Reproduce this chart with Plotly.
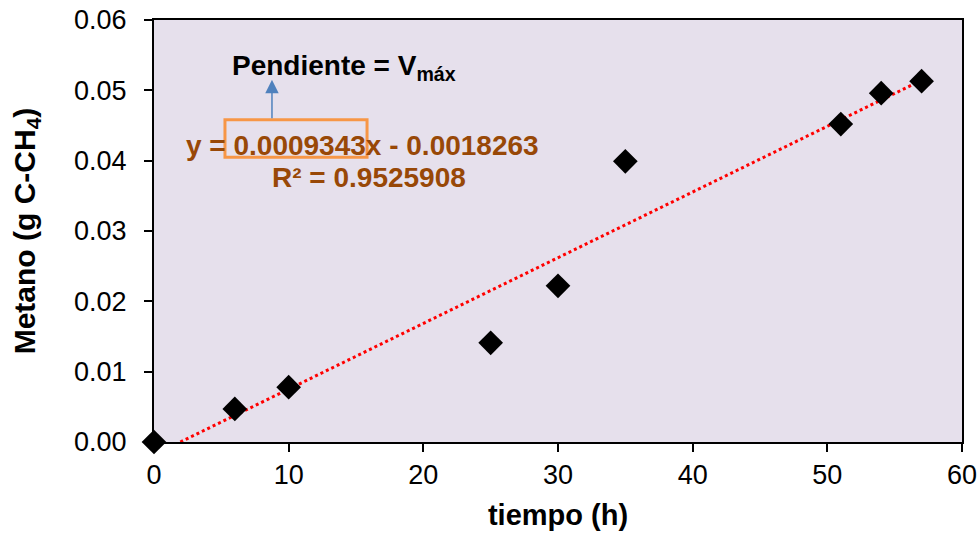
import numpy as np
import plotly.graph_objects as go

# Measured methane production over time
tiempo_h = [0, 6, 10, 25, 30, 35, 51, 54, 57]
metano_g = [0.0, 0.0047, 0.0078, 0.0141, 0.0222, 0.0399, 0.0452, 0.0496, 0.0513]

# Linear trend line reported on the chart
pendiente = 0.0009343
intercepto = -0.0018263
r2 = 0.9525908

x_tick_vals = [0, 10, 20, 30, 40, 50, 60]
y_tick_vals = [0.00, 0.01, 0.02, 0.03, 0.04, 0.05, 0.06]

FONT = "Arial, Liberation Sans, sans-serif"
BROWN = "#984807"
ORANGE = "#F79646"
ARROW = "#4F81BD"

x_fit = np.linspace(-intercepto / pendiente, max(tiempo_h), 200)
y_fit = pendiente * x_fit + intercepto

fig = go.Figure()
fig.add_trace(go.Scatter(
    x=x_fit, y=y_fit, mode="lines",
    line=dict(color="#FF0000", width=3, dash="dot"),
    hoverinfo="skip", showlegend=False,
))
fig.add_trace(go.Scatter(
    x=tiempo_h, y=metano_g, mode="markers",
    marker=dict(symbol="diamond", size=19, color="black"),
    showlegend=False, cliponaxis=False,
))

# Box highlighting the slope and arrow pointing to its meaning
fig.add_shape(type="rect", x0=5.27, x1=15.82, y0=0.0405, y1=0.0458,
              line=dict(color=ORANGE, width=3), layer="above")
fig.add_annotation(x=8.76, y=0.0515, ax=8.76, ay=0.0458,
                   xref="x", yref="y", axref="x", ayref="y",
                   showarrow=True, arrowhead=2, arrowsize=1.8, arrowwidth=1.5,
                   arrowcolor=ARROW, text="")

fig.add_annotation(x=14.1, y=0.0533, xref="x", yref="y", showarrow=False,
                   text="<b>Pendiente = V<sub>máx</sub></b>",
                   font=dict(family=FONT, size=28, color="black"))
fig.add_annotation(x=15.45, y=0.0421, xref="x", yref="y", showarrow=False,
                   text=f"<b>y = {pendiente:.7f}x - {abs(intercepto):.7f}</b>",
                   font=dict(family=FONT, size=28, color=BROWN))
fig.add_annotation(x=15.97, y=0.0376, xref="x", yref="y", showarrow=False,
                   text=f"<b>R² = {r2:.7f}</b>",
                   font=dict(family=FONT, size=28, color=BROWN))

axis_common = dict(
    showgrid=False, zeroline=False, showline=True, linecolor="black",
    linewidth=2, mirror=True, ticks="outside", ticklen=8, tickwidth=1.5,
    tickcolor="black", tickfont=dict(family=FONT, size=27, color="black"),
    automargin=False,
)

fig.update_layout(
    width=979, height=535,
    margin=dict(l=154, r=17, t=20, b=93),
    paper_bgcolor="white", plot_bgcolor="#E6E0EC",
    xaxis=dict(range=[0, 60], tickvals=x_tick_vals,
               title=dict(text="<b>tiempo (h)</b>", standoff=15,
                          font=dict(family=FONT, size=29, color="black")),
               **axis_common),
    yaxis=dict(range=[0, 0.06], tickvals=y_tick_vals, tickformat=".2f",
               ticklabelstandoff=12,
               title=dict(text="<b>Metano (g C-CH<sub>4</sub>)</b>", standoff=30,
                          font=dict(family=FONT, size=30, color="black")),
               **axis_common),
)

fig.write_html("out.html")
